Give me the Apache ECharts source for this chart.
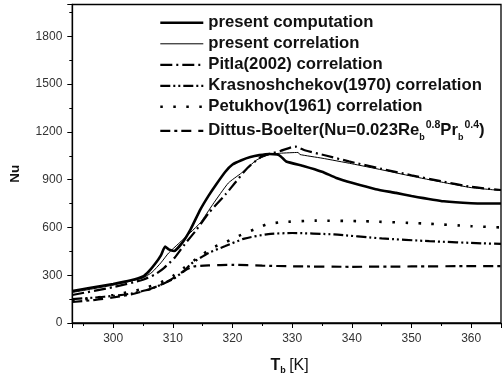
<!DOCTYPE html>
<html><head><meta charset="utf-8">
<script src="https://cdn.jsdelivr.net/npm/echarts@6/dist/echarts.min.js"></script>
<style>html,body{margin:0;padding:0;background:#fff}#c{width:504px;height:380px}</style>
</head><body><div id="c"></div>
<script>
// Series data: temperature T_b [K] and Nusselt number
var compT  = [293.15, 296, 300, 303, 305, 306, 307, 308, 308.7, 309.3, 310.2, 311.5, 313, 314.6, 316, 317.2, 318.8, 320, 321.5, 323, 324.5, 326.2, 327.5, 328.1, 329, 332, 335, 337.4, 340, 344, 347.4, 350, 355.4, 360, 365];
var compNu = [200, 220, 245, 268, 292, 325, 370, 425, 480, 462, 452, 500, 590, 712, 800, 867, 950, 995, 1022, 1042, 1054, 1061, 1058, 1046, 1014, 985, 950, 911, 880, 840, 817, 798, 764, 752, 750];

var corrT  = [293.15, 300, 305, 306.5, 308, 309.3, 311, 313, 314.6, 316.7, 319.3, 321.5, 324.1, 326.2, 328, 331, 331.3, 335, 340, 345, 350, 355, 360, 365];
var corrNu = [192, 238, 283, 318, 378, 440, 500, 570, 629, 745, 879, 942, 1025, 1058, 1066, 1071, 1058, 1035, 1000, 962, 922, 885, 850, 832];

var pitT  = [293.15, 300, 305, 307, 308.5, 310.3, 312, 314, 316, 318.8, 320.4, 322.5, 324.9, 326.5, 328, 330.5, 332.1, 335.8, 339.5, 345, 350, 355, 360, 365];
var pitNu = [176, 225, 272, 305, 345, 410, 495, 587, 690, 806, 879, 973, 1046, 1065, 1080, 1108, 1085, 1050, 1015, 968, 928, 890, 855, 835];

var kraT  = [293.15, 297, 300, 303, 306, 308, 310, 312, 313, 316, 318.8, 322, 326, 330, 337, 345, 353, 362, 365];
var kraNu = [150, 160, 170, 185, 210, 240, 275, 330, 370, 440, 483, 530, 558, 565, 556, 531, 514, 500, 497];

var petT  = [293.15, 297, 300, 303, 305, 308, 310, 312, 314.6, 316.7, 319, 321, 323.6, 325.7, 328, 334, 342, 352, 360, 365];
var petNu = [140, 158, 175, 198, 215, 255, 295, 350, 421, 473, 510, 546, 587, 619, 632, 643, 639, 625, 608, 600];

var dbT  = [293.15, 297, 300, 303, 306, 308, 310, 312, 313.5, 316, 320, 325, 330, 340, 350, 360, 365];
var dbNu = [132, 145, 160, 180, 210, 240, 280, 330, 355, 362, 365, 360, 356, 353, 355, 357, 357];

var seriesNames = ['present computation', 'present correlation', 'Pitla(2002) correlation',
  'Krasnoshchekov(1970) correlation', 'Petukhov(1961) correlation', 'Dittus-Boelter'];

function zip(xs, ys) { return xs.map(function (x, i) { return [x, ys[i]]; }); }

var FONT = "'Liberation Sans', Arial, sans-serif";

var styles = [
  { w: 2.6, t: 'solid' },
  { w: 1, t: 'solid' },
  { w: 2.2, t: [12, 4, 2, 4] },
  { w: 2.2, t: [10, 3, 2, 3, 2, 3] },
  { w: 2.6, t: [2.5, 10.5] },
  { w: 2.2, t: [10, 4, 3, 4, 10, 7] }
];

function mk(i, xs, ys, smooth) {
  return {
    name: seriesNames[i], type: 'line', data: zip(xs, ys), symbol: 'none', smooth: smooth,
    lineStyle: { color: '#000', width: styles[i].w, type: styles[i].t, cap: 'butt' },
    itemStyle: { color: '#000' }, z: 3
  };
}

var chart = echarts.init(document.getElementById('c'), null, { renderer: 'canvas' });
chart.setOption({
  animation: false,
  backgroundColor: '#fff',
  grid: { left: 72.3, right: -20, top: 4.5, bottom: 56, show: true, borderColor: '#000', borderWidth: 1.3, containLabel: false },
  legend: {
    orient: 'vertical', left: 159, top: 14.3, padding: 0, itemWidth: 43, itemHeight: 14, itemGap: 4,
    itemStyle: { opacity: 0, borderWidth: 0 },
    data: seriesNames.map(function (n, i) {
      return { name: n, lineStyle: { width: styles[i].w, type: styles[i].t, color: '#000' } };
    }),
    selectedMode: false,
    formatter: function (n) {
      if (n === 'Dittus-Boelter') return '{n|Dittus-Boelter(Nu=0.023Re}{sub|b}{sup|0.8}{n|Pr}{sub|b}{sup|0.4}{n|)}';
      return n;
    },
    textStyle: {
      fontFamily: FONT, fontSize: 16.7, fontWeight: 'bold', color: '#111', lineHeight: 16,
      rich: {
        n: { fontFamily: FONT, fontSize: 16.7, fontWeight: 'bold', color: '#111', lineHeight: 23 },
        sub: { fontFamily: FONT, fontSize: 9, fontWeight: 'bold', color: '#111', lineHeight: 9, verticalAlign: 'bottom', padding: [0, 1, 0, 0] },
        sup: { fontFamily: FONT, fontSize: 10.5, fontWeight: 'bold', color: '#111', lineHeight: 10, verticalAlign: 'top' }
      }
    }
  },
  xAxis: {
    type: 'value', min: 293.15, max: 365,
    name: '{t|T}{s|b} {k|[K]}', nameLocation: 'middle', nameGap: 33,
    nameTextStyle: {
      padding: [0, 0, 0, 6],
      rich: {
        t: { fontFamily: FONT, fontSize: 16, fontWeight: 'bold', color: '#111', lineHeight: 19 },
        s: { fontFamily: FONT, fontSize: 9, fontWeight: 'bold', color: '#111', verticalAlign: 'bottom', lineHeight: 9 },
        k: { fontFamily: FONT, fontSize: 16, color: '#111', lineHeight: 19 }
      }
    },
    axisLine: { show: true, onZero: false, lineStyle: { color: '#000', width: 1.3 } },
    axisTick: { show: true, inside: false, length: 5, lineStyle: { color: '#000', width: 1 } },
    minorTick: { show: true, splitNumber: 2, length: 3, lineStyle: { color: '#000', width: 1 } },
    splitLine: { show: false },
    axisLabel: {
      margin: 10, fontFamily: FONT, fontSize: 12, color: '#333',
      formatter: function (v) { return (Math.abs(v % 10) < 1e-6) ? String(v) : ''; }
    }
  },
  yAxis: {
    type: 'value', min: 0, max: 2000, interval: 300,
    name: 'Nu', nameLocation: 'middle', nameGap: 50,
    nameTextStyle: { fontFamily: FONT, fontSize: 13.5, fontWeight: 'bold', color: '#111', padding: [0, 0, 0, -20] },
    axisLine: { show: true, onZero: false, lineStyle: { color: '#000', width: 1.3 } },
    axisTick: { show: true, inside: false, length: 5, lineStyle: { color: '#000', width: 1 } },
    minorTick: { show: true, splitNumber: 2, length: 3, lineStyle: { color: '#000', width: 1 } },
    splitLine: { show: false },
    axisLabel: {
      margin: 10, fontFamily: FONT, fontSize: 12, color: '#333',
      formatter: function (v) { return v > 1800 ? '' : String(v); }
    }
  },
  series: [
    mk(0, compT, compNu, 0.15),
    mk(1, corrT, corrNu, 0.15),
    mk(2, pitT, pitNu, 0.2),
    mk(3, kraT, kraNu, 0.2),
    mk(4, petT, petNu, 0.2),
    mk(5, dbT, dbNu, 0.2)
  ]
});
</script></body></html>
